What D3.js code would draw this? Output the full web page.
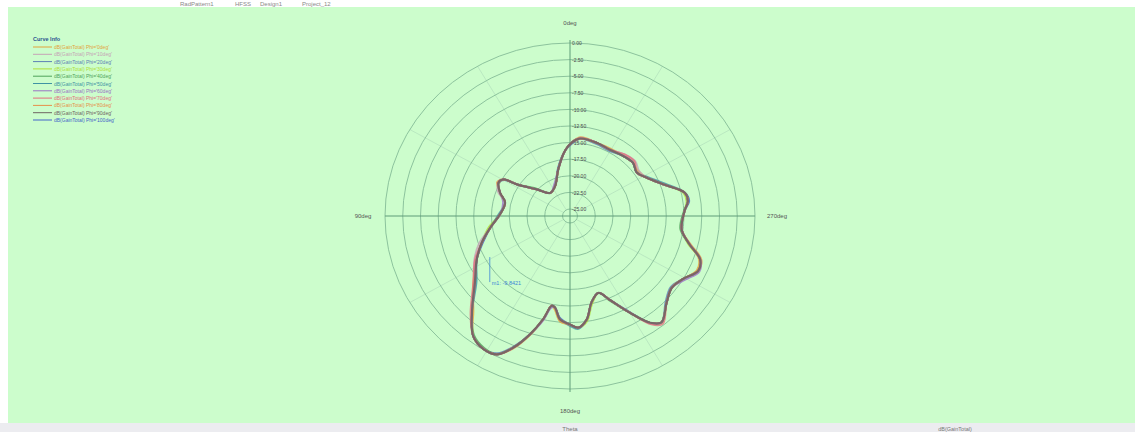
<!DOCTYPE html>
<html><head><meta charset="utf-8">
<script src="https://cdn.jsdelivr.net/npm/d3@7"></script>
<style>
body{margin:0;background:#fff}
svg{display:block}
text{font-family:"Liberation Sans",Arial,sans-serif}
</style>
</head><body>
<svg id="chart" width="1135" height="432"></svg>
<script>
// ---------- data ----------
const angles = [1.2,6.9,18.8,29.3,39.7,48,55.2,61.9,70,77.8,
  82.3,87.3,97.3,104.2,109.6,114.6,120.6,127,133.8,141.2,
  144.9,149.9,156,160.9,166.9,171.4,176,180,185.1,188.7,
  190.8,193.6,197.5,201.9,206.3,211.3,217,223.5,233.1,243.6,
  252.1,261.1,271.5,282.4,289.6,296.4,300.5,302.5,310.6,321.3,
  335,346.9,355.9];

const s1 = [-15.0,-14.3,-14.4,-14.4,-14.3,-14.1,-14.3,-13.8,-12.1,-9.5,
  -9.3,-9.9,-10.2,-8.7,-6.8,-6.4,-7.5,-8.1,-7.2,-5.5,
  -6.4,-9.2,-12.2,-13.8,-12.7,-10.3,-9.2,-9.7,-10.1,-11.8,
  -12.3,-10.1,-7.4,-4.7,-2.8,-2.6,-3.4,-6.3,-9.0,-11.4,
  -13.0,-14.7,-16.2,-16.7,-15.6,-14.8,-15.2,-17.2,-19.9,-21.6,
  -21.1,-18.8,-16.2];
const s2 = [-15.0,-14.3,-14.4,-14.6,-14.0,-13.7,-14.2,-13.8,-12.1,-9.5,
  -9.3,-9.9,-10.2,-8.7,-6.6,-6.2,-7.5,-8.1,-7.2,-5.5,
  -6.2,-9.2,-12.2,-13.8,-12.7,-10.3,-9.2,-9.7,-10.4,-12.1,
  -12.3,-10.1,-7.4,-4.7,-2.8,-2.6,-3.4,-6.0,-9.3,-11.0,
  -12.6,-14.7,-16.2,-16.7,-15.3,-14.8,-15.2,-17.2,-19.9,-21.6,
  -21.1,-18.8,-16.2];
const s3 = [-15.0,-14.3,-14.6,-14.8,-14.3,-14.1,-14.6,-13.8,-12.1,-9.5,
  -9.3,-9.9,-10.2,-8.7,-6.6,-6.2,-7.5,-8.3,-7.4,-5.5,
  -6.4,-9.2,-12.2,-13.8,-12.7,-10.3,-9.2,-9.7,-10.4,-12.1,
  -12.3,-10.1,-7.4,-4.9,-3.0,-2.6,-3.4,-6.0,-9.3,-11.4,
  -13.0,-14.7,-16.2,-16.7,-15.6,-14.8,-15.4,-17.2,-19.9,-21.6,
  -21.1,-18.8,-16.2];
const s4 = [-15.0,-14.3,-14.4,-14.6,-14.3,-14.1,-14.6,-13.8,-12.1,-9.7,
  -9.5,-9.9,-10.2,-8.9,-6.6,-6.2,-7.5,-8.1,-7.2,-5.5,
  -6.4,-9.2,-12.2,-13.8,-12.4,-10.0,-9.2,-9.7,-10.4,-12.1,
  -12.3,-10.1,-7.4,-4.7,-2.8,-2.6,-3.4,-6.0,-9.3,-11.4,
  -13.0,-14.4,-16.2,-16.7,-15.6,-14.8,-15.2,-17.2,-19.9,-21.6,
  -21.1,-18.8,-16.2];
const s5 = [-15.0,-14.3,-14.4,-14.6,-14.3,-14.1,-14.6,-13.8,-12.1,-9.5,
  -9.3,-10.0,-10.4,-8.7,-6.6,-6.2,-7.5,-8.1,-7.2,-5.5,
  -6.4,-9.2,-12.0,-13.8,-12.7,-10.3,-9.2,-9.7,-10.4,-12.1,
  -12.3,-10.1,-7.4,-4.7,-2.8,-2.8,-3.6,-6.0,-9.3,-11.4,
  -13.0,-14.7,-16.2,-16.7,-15.6,-14.8,-15.2,-17.2,-19.6,-21.6,
  -21.1,-18.8,-16.2];
const s6 = [-15.0,-14.3,-14.4,-14.6,-14.3,-14.1,-14.6,-13.6,-11.8,-9.5,
  -9.3,-9.9,-10.2,-8.7,-6.6,-6.2,-7.5,-8.1,-7.2,-5.5,
  -6.4,-9.2,-12.2,-13.8,-12.7,-10.3,-9.0,-9.5,-10.4,-12.1,
  -12.3,-10.1,-7.4,-4.7,-2.8,-2.6,-3.4,-6.0,-9.6,-11.4,
  -13.0,-14.7,-16.0,-16.7,-15.6,-14.8,-15.2,-17.2,-19.9,-21.6,
  -21.1,-18.8,-16.2];
const s7 = [-15.0,-14.3,-14.4,-14.6,-14.3,-14.1,-14.6,-13.8,-12.1,-9.5,
  -9.3,-9.9,-10.2,-8.7,-6.6,-6.0,-7.2,-8.1,-7.2,-5.5,
  -6.4,-9.2,-12.2,-13.8,-12.7,-10.3,-9.2,-9.7,-10.4,-12.1,
  -12.0,-9.8,-7.4,-4.7,-2.8,-2.6,-3.4,-6.0,-9.3,-11.4,
  -13.0,-14.7,-16.2,-16.4,-15.6,-14.8,-15.2,-17.2,-19.9,-21.6,
  -20.8,-18.8,-16.2];
const s8 = [-15.0,-14.3,-14.4,-14.6,-14.0,-13.8,-14.6,-13.8,-12.1,-9.5,
  -9.3,-9.9,-10.2,-8.7,-6.6,-6.2,-7.5,-8.1,-7.2,-5.2,
  -6.1,-9.2,-12.2,-13.8,-12.7,-10.3,-9.2,-9.7,-10.4,-12.1,
  -12.3,-10.1,-7.4,-4.7,-2.8,-2.6,-3.4,-5.7,-9.0,-11.1,
  -13.0,-14.7,-16.2,-16.7,-15.6,-14.8,-15.2,-17.2,-19.9,-21.6,
  -21.1,-18.8,-16.2];
const s9 = [-15.0,-14.1,-14.4,-14.6,-14.3,-14.1,-14.6,-13.8,-12.1,-9.5,
  -9.3,-9.9,-10.2,-8.5,-6.4,-6.2,-7.5,-8.1,-7.2,-5.5,
  -6.4,-9.2,-12.2,-13.8,-12.7,-10.3,-9.2,-9.7,-10.4,-12.1,
  -12.3,-10.1,-7.2,-4.5,-2.8,-2.6,-3.4,-6.0,-9.3,-11.4,
  -13.0,-14.7,-16.2,-16.7,-15.6,-14.6,-15.2,-17.2,-19.9,-21.6,
  -21.1,-18.8,-16.2];
const s10 = [-15.0,-14.3,-14.4,-14.6,-14.3,-14.1,-14.6,-13.8,-12.1,-9.5,
  -9.3,-9.9,-10.2,-8.7,-6.6,-6.2,-7.5,-8.1,-7.2,-5.5,
  -6.4,-9.2,-12.2,-13.8,-12.7,-10.3,-9.2,-9.7,-10.4,-12.1,
  -12.3,-10.1,-7.4,-4.7,-2.8,-2.6,-3.4,-6.0,-9.3,-11.4,
  -13.0,-14.7,-16.2,-16.7,-15.6,-14.8,-15.2,-17.2,-19.9,-21.6,
  -21.1,-18.8,-16.2];
const s11 = [-15.2,-14.3,-14.4,-14.6,-14.3,-14.1,-14.6,-13.8,-12.1,-9.5,
  -9.1,-9.9,-10.2,-8.7,-6.6,-6.2,-7.5,-8.1,-7.2,-5.5,
  -6.4,-9.4,-12.2,-13.8,-12.7,-10.3,-9.2,-9.7,-10.6,-12.1,
  -12.3,-10.1,-7.4,-4.7,-2.8,-2.6,-3.4,-6.0,-9.3,-11.4,
  -13.2,-14.7,-16.2,-16.7,-15.6,-14.8,-15.2,-17.2,-19.9,-21.6,
  -21.1,-18.6,-16.2];

const seriesValues = [s1,s2,s3,s4,s5,s6,s7,s8,s9,s10,s11];
const seriesNames = ["Phi='0deg'","Phi='10deg'","Phi='20deg'","Phi='30deg'","Phi='40deg'",
  "Phi='50deg'","Phi='60deg'","Phi='70deg'","Phi='80deg'","Phi='90deg'","Phi='100deg'"];
const seriesColors = ["#e2a23c","#c6a3b6","#5d7fb5","#aede3a","#4fa35a","#3f93a3",
  "#9a72c4","#e2707e","#e6904a","#6e6462","#4466c8"];
const drawOrder = [10,2,3,4,5,0,8,6,1,7,9];
const legendTitle = "Curve Info";

const radialTicks = [-25,-22.5,-20,-17.5,-15,-12.5,-10,-7.5,-5,-2.5,0];
const radialTickLabels = ["-25.00","-22.50","-20.00","-17.50","-15.00","-12.50",
  "-10.00","-7.50","-5.00","-2.50","0.00"];
const axisAngles = [0,90,180,270];
const axisAngleLabels = ["0deg","270deg","180deg","90deg"];
const spokeAngles = [30,60,120,150,210,240,300,330];
const markerAngle = 236;
const markerLabel = "m1: -9.8421";
const headerTexts = ["RadPattern1","HFSS","Design1","Project_12"];
const footerTexts = ["Theta","dB(GainTotal)"];

// ---------- layout ----------
const W = 1135, H = 432;
const cx = 570, cy = 216, Rx = 185, Ry = 173;
const svg = d3.select("#chart");

svg.append("rect").attr("width",W).attr("height",H).attr("fill","#ffffff");
svg.append("rect").attr("x",8).attr("y",7).attr("width",W-8).attr("height",416).attr("fill","#ccfdcc");
svg.append("rect").attr("x",0).attr("y",423).attr("width",W).attr("height",H-423).attr("fill","#ececf0");

// header / footer texts
svg.selectAll("text.hdr").data(headerTexts).enter().append("text")
  .attr("class","hdr").attr("x",(d,i)=>[180,235,260,302][i]).attr("y",6)
  .attr("font-size",6).attr("fill","#8a8a8a").text(d=>d);
svg.append("text").attr("x",cx).attr("y",431).attr("text-anchor","middle")
  .attr("font-size",6).attr("fill","#777").text(footerTexts[0]);
svg.append("text").attr("x",955).attr("y",431).attr("text-anchor","middle")
  .attr("font-size",5.5).attr("fill","#777").text(footerTexts[1]);

// radial scale (fraction of outer radius)
const rScale = d3.scaleLinear().domain([d3.min(radialTicks), d3.max(radialTicks)]).range([7/Ry, 1]);
const toRad = a => a*Math.PI/180;
const px = (a,v) => cx + Rx*rScale(v)*Math.sin(toRad(a));
const py = (a,v) => cy - Ry*rScale(v)*Math.cos(toRad(a));

const grid = svg.append("g");
grid.selectAll("line.spoke").data(spokeAngles).enter().append("line")
  .attr("x1",a=>px(a,radialTicks[0])).attr("y1",a=>py(a,radialTicks[0]))
  .attr("x2",a=>px(a,0)).attr("y2",a=>py(a,0))
  .attr("stroke","#b2dfbb").attr("stroke-width",0.7);
grid.selectAll("ellipse").data(radialTicks).enter().append("ellipse")
  .attr("cx",cx).attr("cy",cy)
  .attr("rx",v=>Rx*rScale(v)).attr("ry",v=>Ry*rScale(v))
  .attr("fill","none").attr("stroke","#8cc39d").attr("stroke-width",1);
grid.append("line").attr("x1",cx-Rx).attr("x2",cx+Rx).attr("y1",cy).attr("y2",cy)
  .attr("stroke","#5e9c78").attr("stroke-width",1);
grid.append("line").attr("x1",cx).attr("x2",cx).attr("y1",cy-Ry-3).attr("y2",cy+Ry+3)
  .attr("stroke","#5e9c78").attr("stroke-width",1);

// radial tick labels via d3 axis
const yAxisScale = d3.scaleLinear().domain(rScale.domain()).range([cy - Ry*rScale.range()[0], cy - Ry]);
const axisG = svg.append("g").attr("transform",`translate(${cx},0)`)
  .call(d3.axisRight(yAxisScale).tickValues(radialTicks)
    .tickFormat((d,i)=>radialTickLabels[i]).tickSize(0).tickPadding(2));
axisG.select(".domain").remove();
axisG.selectAll("text").attr("font-size",5).attr("fill","#4a4a4a")
  .attr("font-family","Liberation Sans, Arial, sans-serif");

// angle labels
const lblOff = [20, 14, 22, 14];
svg.selectAll("text.ang").data(axisAngles).enter().append("text")
  .attr("class","ang")
  .attr("x",(a,i)=>cx + (Rx+lblOff[i]+ (i%2?8:0))*Math.sin(toRad(a)))
  .attr("y",(a,i)=>cy - (Ry+lblOff[i])*Math.cos(toRad(a)) + 2)
  .attr("text-anchor","middle").attr("font-size",6).attr("fill","#555")
  .text((a,i)=>axisAngleLabels[i]);

// curves
const line = d3.line()
  .x(d=>px(d[0],d[1])).y(d=>py(d[0],d[1]))
  .curve(d3.curveCatmullRomClosed.alpha(0.5));
svg.append("g").selectAll("path").data(drawOrder).enter().append("path")
  .attr("d",k=>line(angles.map((a,i)=>[a,seriesValues[k][i]])))
  .attr("fill","none")
  .attr("stroke",k=>seriesColors[k])
  .attr("stroke-width",k=> k===9 ? 2.2 : 1.8)
  .attr("stroke-opacity",k=> k===9 ? 0.9 : 0.8)
  .attr("stroke-linejoin","round");

// marker annotation
const mi = d3.bisectLeft(angles, markerAngle);
const t = (markerAngle-angles[mi-1])/(angles[mi]-angles[mi-1]);
const mv = s10[mi-1] + t*(s10[mi]-s10[mi-1]);
const mx = px(markerAngle,mv), my = py(markerAngle,mv);
svg.append("line").attr("x1",mx+15).attr("x2",mx+15).attr("y1",my-19).attr("y2",my+6)
  .attr("stroke","#3c86d6").attr("stroke-width",0.8);
svg.append("text").attr("x",mx+17).attr("y",my+9).attr("font-size",5.5)
  .attr("fill","#3c86d6").text(markerLabel);

// legend
const lg = svg.append("g");
lg.append("text").attr("x",33).attr("y",41).attr("font-size",5.5).attr("font-weight","bold")
  .attr("fill","#2c5590").text(legendTitle);
const rowY = d3.scaleLinear().domain([0, seriesNames.length-1]).range([47,120]);
const rows = lg.selectAll("g.row").data(seriesNames).enter().append("g")
  .attr("transform",(d,i)=>`translate(0,${rowY(i)})`);
rows.append("line").attr("x1",33).attr("x2",52).attr("y1",0).attr("y2",0)
  .attr("stroke",(d,i)=>seriesColors[i]).attr("stroke-width",1);
rows.append("text").attr("x",54).attr("y",2).attr("font-size",5)
  .attr("fill",(d,i)=>seriesColors[i]).text(d=>"dB(GainTotal) "+d);
</script>
</body></html>
